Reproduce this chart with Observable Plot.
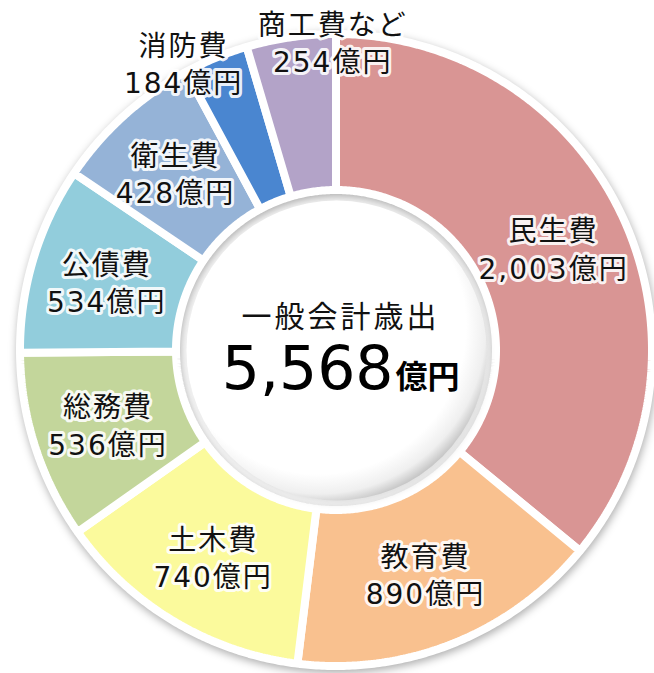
<!DOCTYPE html>
<html><head><meta charset="utf-8">
<script src="https://cdn.jsdelivr.net/npm/d3@7"></script>
<script src="https://cdn.jsdelivr.net/npm/@observablehq/plot@0.6"></script>
<style>
body{margin:0;background:#fff;}
#chart svg{display:block;background:#fff;}
g[aria-label="area"]{filter:drop-shadow(1px 3px 4px rgba(0,0,0,0.32));}
g[aria-label="dot"]{filter:drop-shadow(2px 3px 3px rgba(0,0,0,0.12));}
</style></head><body><div id="chart"></div>
<script>
// ---- data ----
const categories = ["民生費","教育費","土木費","総務費","公債費","衛生費","消防費","商工費など"];
const values = [2003, 890, 740, 536, 534, 428, 184, 254];
const colors = ["#d99594","#f9c18f","#fbfa9c","#c3d69b","#92cddc","#95b3d7","#4a86d0","#b3a3c8"];
const centerTitle = "一般会計歳出";
const totalLabel = "5,568";
const unit = "億円";

// ---- layout ----
const R_OUT = 316, R_IN = 160, LABEL_R = 240;
const labelTweak = {"消防費": {r: 326, da: -5.6}, "商工費など": {r: 309, da: 7.5}};
const data = categories.map((c, i) => ({cat: c, value: values[i]}));
const arcs = d3.pie().sort(null).value(d => d.value)(data);
const deg = Math.PI / 180;
const pts = [];
for (const a of arcs) {
  const n = Math.max(4, Math.ceil((a.endAngle - a.startAngle) / (0.5 * deg)));
  for (let k = 0; k <= n; k++) {
    const t = a.startAngle + (a.endAngle - a.startAngle) * k / n;
    pts.push({cat: a.data.cat,
      xo: R_OUT * Math.sin(t), yo: -R_OUT * Math.cos(t),
      xi: R_IN * Math.sin(t), yi: -R_IN * Math.cos(t)});
  }
}
const labels = arcs.map(a => {
  const tw = labelTweak[a.data.cat] || {r: LABEL_R, da: 0};
  const m = (a.startAngle + a.endAngle) / 2 + tw.da * deg;
  return {
    text: `${a.data.cat}\n${a.data.value.toLocaleString("en-US")}${unit}`,
    x: tw.r * Math.sin(m), y: -tw.r * Math.cos(m)
  };
});

const font = "'DejaVu Sans', 'Noto Sans CJK JP', sans-serif";
const plot = Plot.plot({
  width: 654, height: 673, margin: 0,
  x: {domain: [-336, 318], range: [0, 654], axis: null},
  y: {domain: [-350, 323], range: [0, 673], axis: null},
  color: {domain: categories, range: colors},
  style: {fontFamily: font},
  marks: [
    Plot.area(pts, {x1: "xo", y1: "yo", x2: "xi", y2: "yi", z: "cat", fill: "cat",
      stroke: "white", strokeWidth: 8, strokeLinejoin: "miter"}),
    Plot.dot([0], {x: 0, y: 0, r: 150, fill: "url(#discGrad)", stroke: "none"}),
    Plot.text(labels, {x: "x", y: "y", text: "text", fontSize: 28, lineHeight: 1.34,
      fill: "#111", stroke: "white", strokeWidth: 6, strokeOpacity: 0.9, fontFamily: font}),
    Plot.text([centerTitle], {x: 0, y: 0, text: d => d, dx: 4, dy: -24, fontSize: 30, lineAnchor: "bottom",
      fill: "#111", fontFamily: font}),
    Plot.text([totalLabel], {x: 0, y: 0, text: d => d, dx: 57, dy: 38, fontSize: 60, lineAnchor: "bottom",
      textAnchor: "end", fill: "#000", fontFamily: font}),
    Plot.text([unit], {x: 0, y: 0, text: d => d, dx: 59, dy: 37, fontSize: 32, fontWeight: 600, lineAnchor: "bottom",
      textAnchor: "start", fill: "#000", fontFamily: font})
  ]
});
const defs = document.createElementNS("http://www.w3.org/2000/svg", "defs");
defs.innerHTML = `<radialGradient id="discGrad" cx="0.44" cy="0.42" r="0.6">
  <stop offset="0" stop-color="#ffffff"/>
  <stop offset="0.82" stop-color="#ffffff"/>
  <stop offset="0.93" stop-color="#efefef"/>
  <stop offset="1" stop-color="#c4c4c4"/>
</radialGradient>`;
plot.insertBefore(defs, plot.firstChild);
const textGroups = plot.querySelectorAll('g[aria-label="text"]');
if (textGroups[0]) textGroups[0].style.letterSpacing = "2px";
if (textGroups[1]) textGroups[1].style.letterSpacing = "3px";
document.getElementById("chart").appendChild(plot);
</script></body></html>
